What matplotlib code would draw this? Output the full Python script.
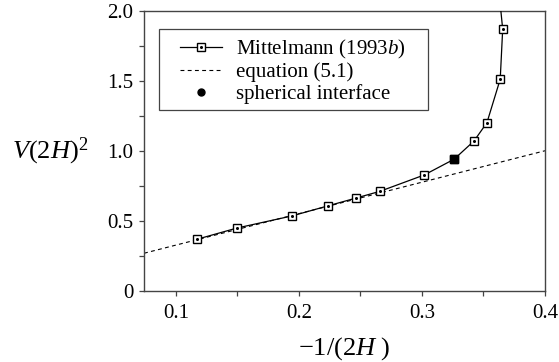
import matplotlib
matplotlib.use("Agg")
import matplotlib.pyplot as plt
from matplotlib.lines import Line2D
from matplotlib.patches import Rectangle
from matplotlib.ticker import MultipleLocator, FixedLocator

plt.rcParams["font.family"] = ["Liberation Serif", "DejaVu Serif"]
plt.rcParams["mathtext.fontset"] = "custom"
plt.rcParams["mathtext.rm"] = "Liberation Serif"
plt.rcParams["mathtext.it"] = "Liberation Serif:italic"

# Mittelmann (1993b) computed branch
mitt_x = [0.1168, 0.1496, 0.1940, 0.2233, 0.2466, 0.2659, 0.3019, 0.3262,
          0.3423, 0.3528, 0.3636, 0.3656, 0.3630]
mitt_y = [0.366, 0.447, 0.533, 0.605, 0.662, 0.710, 0.827, 0.940,
          1.070, 1.201, 1.512, 1.870, 2.100]

# spherical interface point
sph_x = [0.3262]
sph_y = [0.940]

# equation (5.1): straight line across the plotted range
eq_x = [0.074, 0.4]
eq_y = [0.2665, 1.0]

xticks = [0.1, 0.2, 0.3, 0.4]
xticklabels = ["0.1", "0.2", "0.3", "0.4"]
yticks = [0, 0.5, 1.0, 1.5, 2.0]
yticklabels = ["0", "0.5", "1.0", "1.5", "2.0"]

W, H = 559, 362
fig = plt.figure(figsize=(W / 100, H / 100), dpi=100)
left, right, top, bottom = 144, 545, 11, 290.5
ax = fig.add_axes([left / W, 1 - bottom / H, (right - left) / W, (bottom - top) / H])

fs = 15
fs_lab = 19
dash = (0, (3.5, 3))

ax.plot(eq_x, eq_y, color="black", lw=0.8, ls=dash, zorder=2)
ax.plot(mitt_x, mitt_y, color="black", lw=0.9, marker="s", ms=5.4,
        mfc="white", mec="black", mew=1.0, zorder=3)
# small centre dots inside the open squares
ax.plot(mitt_x, mitt_y, ls="none", marker="o", ms=1.2, color="black", zorder=4)
ax.plot(sph_x, sph_y, ls="none", marker="s", ms=5.4, mfc="black", mec="black",
        zorder=5)

ax.set_xlim(0.074, 0.4)
ax.set_ylim(0, 2.0)
ax.xaxis.set_major_locator(FixedLocator(xticks))
ax.set_xticklabels(xticklabels)
ax.xaxis.set_minor_locator(MultipleLocator(0.05))
ax.yaxis.set_major_locator(FixedLocator(yticks))
ax.set_yticklabels(yticklabels)
ax.yaxis.set_minor_locator(MultipleLocator(0.25))

for sp in ax.spines.values():
    sp.set_color("#444444")
    sp.set_linewidth(1.0)

ax.tick_params(which="both", direction="out", top=False, right=False,
               length=3.5, width=0.9, color="#444444", labelsize=fs)
ax.tick_params(axis="y", pad=4)
ax.tick_params(axis="x", pad=6)

fig.text(12 / W, 1 - 151 / H, r"$V(2H)^2$", fontsize=fs_lab, ha="left", va="center")
fig.text((left + right) / 2 / W, 1 - 349 / H, r"$-1/(2H\ )$", fontsize=fs_lab,
         ha="center", va="center")

# legend: entries without frame, box drawn separately
mitt_handle = (
    Line2D([], [], color="black", lw=0.9, marker="s", ms=5.4, mfc="white",
           mec="black", mew=1.0),
    Line2D([], [], ls="none", marker="o", ms=1.2, color="black"),
)
handles = [
    mitt_handle,
    Line2D([], [], color="black", lw=0.8, ls=dash),
    Line2D([], [], ls="none", marker="o", ms=5, color="black"),
]
labels = [r"Mittelmann (1993$b$)", "equation (5.1)", "spherical interface"]
leg = ax.legend(handles, labels, loc="upper left",
                bbox_to_anchor=(180 / W, 1 - 37.5 / H),
                bbox_transform=fig.transFigure,
                borderaxespad=0, borderpad=0, fontsize=fs, frameon=False,
                handlelength=2.0, handletextpad=0.7, labelspacing=0.1,
                numpoints=1)

box = Rectangle((159 / W, 1 - 110 / H), (428 - 159) / W, (110 - 29) / H,
                transform=fig.transFigure, facecolor="white",
                edgecolor="#444444", lw=0.9, zorder=0)
fig.patches.append(box)
ax.set_zorder(1)
ax.patch.set_visible(False)

fig.savefig("out.png", dpi=100)
